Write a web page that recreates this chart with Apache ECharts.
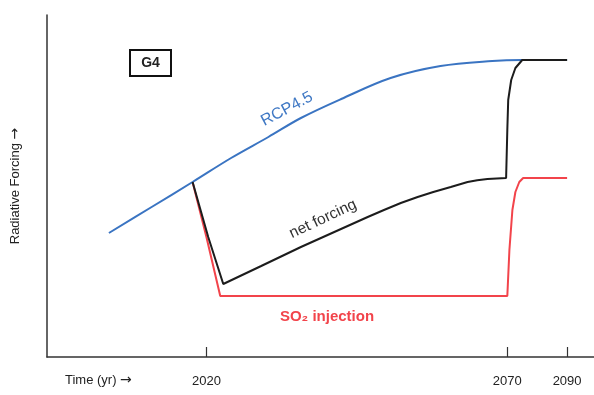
<!DOCTYPE html>
<html>
<head>
<meta charset="utf-8">
<style>
html,body{margin:0;padding:0;background:#fff;}
#c{width:594px;height:395px;}
</style>
<script src="https://cdn.jsdelivr.net/npm/echarts@6/dist/echarts.min.js"></script>
</head>
<body>
<div id="c"></div>
<script>
// Schematic data (forcing in arbitrary units)
const rcpYears    = [2003.8, 2010.9, 2017.7, 2024.1, 2030.3, 2035.7, 2042.4, 2050.6, 2058.9, 2067.5, 2075, 2090];
const rcpForcing  = [124, 150, 175, 199, 220, 239, 258, 279, 291, 296, 297, 297];

const netYears    = [2017.7, 2020.3, 2022.8, 2029.1, 2035.7, 2046.8, 2049.5, 2052.3, 2055.1, 2057.7, 2060.6, 2063.4, 2065.0, 2066.7, 2069.8, 2070.0, 2070.3, 2071.3, 2072.7, 2075, 2090];
const netForcing  = [175, 120, 73, 91, 110, 140, 147, 154, 160, 165, 170, 175, 176.7, 178, 179, 227, 257, 277, 289, 297, 297];

const so2Years    = [2017.7, 2020, 2022.3, 2070, 2070.7, 2071.7, 2072.7, 2074, 2075.3, 2090];
const so2Forcing  = [175, 120, 61, 61, 107, 147, 165, 175, 179, 179];

const tickYears   = [2020, 2070, 2090];
const tickLabels  = ['2020', '2070', '2090'];

// schematic (non-linear) time axis: 2070-2090 is compressed
function pos(year) {
  return year <= 2070 ? 160 + (year - 2020) * 6.04 : 462 + (year - 2070) * 3;
}
function pairs(xs, ys) { return xs.map((x, i) => [pos(x), ys[i]]); }

const tickPos = tickYears.map(pos);
const FONT = '"Liberation Sans", Arial, Helvetica, sans-serif';
const ARROW = '"DejaVu Sans", sans-serif';

const chart = echarts.init(document.getElementById('c'), null, {renderer: 'canvas'});
chart.setOption({
  animation: false,
  backgroundColor: '#fff',
  grid: {left: 45, right: 0, top: 15, bottom: 38},
  xAxis: {
    type: 'value', min: 0, max: 549,
    axisLine: {show: true, lineStyle: {color: '#333', width: 1.5}},
    axisTick: {show: true, inside: true, length: 10, customValues: tickPos, lineStyle: {color: '#333', width: 1.2}},
    axisLabel: {
      show: true, customValues: tickPos, margin: 18,
      fontFamily: FONT, fontSize: 13, color: '#222',
      formatter: v => { const i = tickPos.findIndex(p => Math.abs(p - v) < 0.5); return i >= 0 ? tickLabels[i] : ''; }
    },
    splitLine: {show: false}
  },
  yAxis: {
    type: 'value', min: 0, max: 342,
    name: '{a|Radiative Forcing }{b|\u2192}', nameLocation: 'middle', nameRotate: 90, nameGap: 25,
    nameTextStyle: {fontFamily: FONT, fontSize: 13, color: '#222',
      rich: {a: {fontFamily: FONT, fontSize: 13, color: '#222'}, b: {fontFamily: ARROW, fontSize: 14, color: '#222'}}},
    axisLine: {show: true, lineStyle: {color: '#333', width: 1.5}},
    axisTick: {show: false}, axisLabel: {show: false}, splitLine: {show: false}
  },
  series: [
    {name: 'SO2 injection', type: 'line', data: pairs(so2Years, so2Forcing), showSymbol: false, smooth: false,
     lineStyle: {color: '#f2444b', width: 2}, z: 2},
    {name: 'RCP4.5', type: 'line', data: pairs(rcpYears, rcpForcing), showSymbol: false, smooth: 0.35,
     lineStyle: {color: '#3a74c2', width: 2}, z: 3},
    {name: 'net forcing', type: 'line', data: pairs(netYears, netForcing), showSymbol: false, smooth: false,
     lineStyle: {color: '#1c1c1c', width: 2}, z: 4}
  ],
  graphic: [
    {type: 'text', left: 65, top: 373, style: {text: '{a|Time (yr) }{b|\u2192}',
      rich: {a: {fontFamily: FONT, fontSize: 13, fill: '#222'}, b: {fontFamily: ARROW, fontSize: 14, fill: '#222'}}}},
    {type: 'group', left: 129, top: 49, children: [
      {type: 'rect', shape: {x: 0, y: 0, width: 41, height: 26}, style: {fill: '#fff', stroke: '#111', lineWidth: 2}},
      {type: 'text', x: 20.5, y: 13, style: {text: 'G4', font: 'bold 14px ' + FONT, fill: '#222', align: 'center', verticalAlign: 'middle'}}
    ]},
    {type: 'text', x: 287, y: 109, rotation: 0.49, style: {text: 'RCP4.5', font: '16px ' + FONT, fill: '#3f78c4', align: 'center', verticalAlign: 'middle'}},
    {type: 'text', x: 323, y: 219, rotation: 0.44, style: {text: 'net forcing', font: '15.5px ' + FONT, fill: '#333', align: 'center', verticalAlign: 'middle'}},
    {type: 'text', x: 327, y: 317, style: {text: 'SO\u2082 injection', font: 'bold 15px ' + FONT, fill: '#f2444b', align: 'center', verticalAlign: 'middle'}}
  ]
});
</script>
</body>
</html>
